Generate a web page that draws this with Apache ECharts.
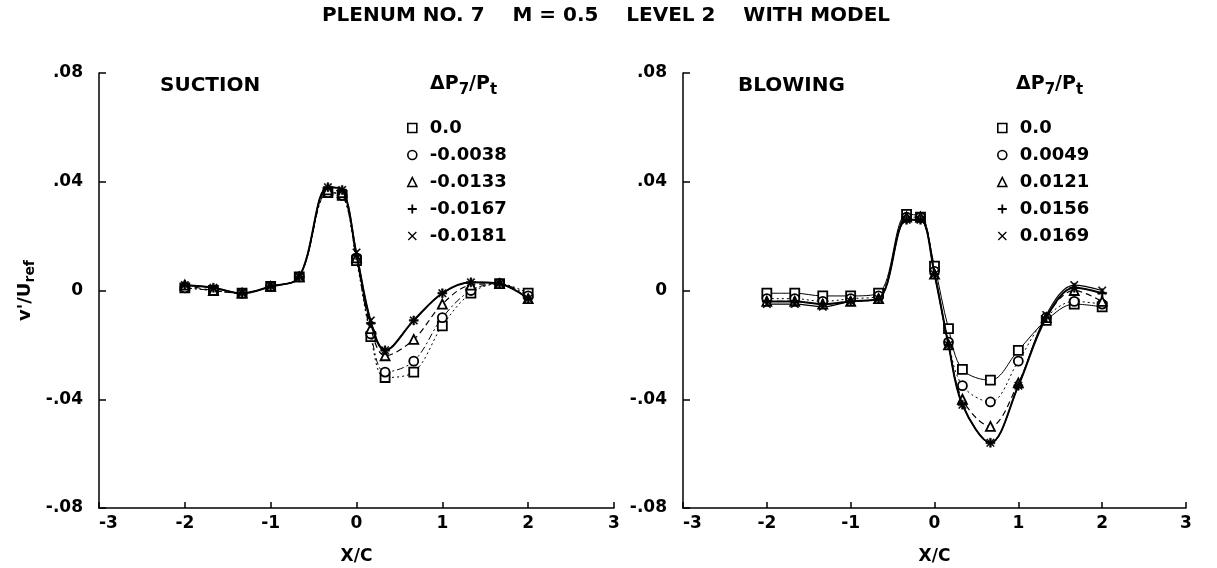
<!DOCTYPE html>
<html><head><meta charset="utf-8">
<script src="https://cdn.jsdelivr.net/npm/echarts@6/dist/echarts.min.js"></script>
<style>html,body{margin:0;padding:0;background:#fff}#c{width:1217px;height:568px}</style>
</head><body><div id="c"></div>
<script>
const xVals = [-2, -1.667, -1.333, -1, -0.667, -0.333, -0.167, 0, 0.167, 0.333, 0.667, 1, 1.333, 1.667, 2];

const suctionNames = ['0.0', '-0.0038', '-0.0133', '-0.0167', '-0.0181'];
const suctionSquare   = [0.001, 0.000, -0.001, 0.0015, 0.005, 0.036, 0.035, 0.011, -0.017, -0.032, -0.030, -0.013, -0.001, 0.0025, -0.001];
const suctionCircle   = [0.001, 0.000, -0.001, 0.0015, 0.005, 0.036, 0.035, 0.012, -0.016, -0.030, -0.026, -0.010, 0.000, 0.0025, -0.002];
const suctionTriangle = [0.002, 0.000, -0.001, 0.0015, 0.005, 0.037, 0.036, 0.012, -0.014, -0.024, -0.018, -0.005, 0.002, 0.0025, -0.003];
const suctionPlus     = [0.002, 0.001, -0.001, 0.0015, 0.005, 0.038, 0.037, 0.013, -0.012, -0.022, -0.011, -0.001, 0.003, 0.0025, -0.003];
const suctionCross    = [0.002, 0.001, -0.001, 0.0015, 0.005, 0.038, 0.037, 0.014, -0.011, -0.022, -0.011, -0.001, 0.003, 0.0025, -0.003];

const blowingNames = ['0.0', '0.0049', '0.0121', '0.0156', '0.0169'];
const blowingSquare   = [-0.001, -0.001, -0.002, -0.002, -0.001, 0.028, 0.027, 0.009, -0.014, -0.029, -0.033, -0.022, -0.011, -0.005, -0.006];
const blowingCircle   = [-0.003, -0.003, -0.004, -0.003, -0.002, 0.027, 0.027, 0.007, -0.019, -0.035, -0.041, -0.026, -0.010, -0.004, -0.005];
const blowingTriangle = [-0.004, -0.004, -0.005, -0.004, -0.003, 0.027, 0.027, 0.006, -0.020, -0.040, -0.050, -0.034, -0.010, 0.000, -0.004];
const blowingPlus     = [-0.004, -0.004, -0.005, -0.004, -0.003, 0.026, 0.026, 0.006, -0.020, -0.042, -0.056, -0.035, -0.010, 0.001, -0.001];
const blowingCross    = [-0.005, -0.005, -0.006, -0.004, -0.003, 0.026, 0.026, 0.006, -0.020, -0.042, -0.056, -0.035, -0.009, 0.002, 0.000];

const xTicks = [-3, -2, -1, 0, 1, 2, 3];
const yTicks = [-0.08, -0.04, 0, 0.04, 0.08];

const FONT = '"DejaVu Sans", "Liberation Sans", Arial, sans-serif';
const PLUS = 'path://M4,0H6V4H10V6H6V10H4V6H0V4H4Z';
const CROSS = 'path://M1,0L5,4L9,0L10,1L6,5L10,9L9,10L5,6L1,10L0,9L4,5L0,1Z';
const symbols = ['rect', 'circle', 'triangle', PLUS, CROSS];
const hollow = [true, true, true, false, false];
const sizes = [9, 9, 9, 9, 8];
const lineStylesLeft = [
  {type: [2, 3], width: 1},
  {type: [7, 3, 2, 3], width: 1},
  {type: [6, 4], width: 1.2},
  {type: 'solid', width: 2},
  {type: 'solid', width: 1.2}
];
const lineStylesRight = [
  {type: 'solid', width: 1},
  {type: [2, 3], width: 1},
  {type: [6, 4], width: 1.2},
  {type: 'solid', width: 2},
  {type: 'solid', width: 1.2}
];

function pair(arr) { return xVals.map((x, i) => [x, arr[i]]); }

function mkSeries(names, arrs, idx, styles) {
  return arrs.map((arr, k) => ({
    name: names[k],
    type: 'line',
    xAxisIndex: idx, yAxisIndex: idx,
    data: pair(arr),
    smooth: 0.35,
    symbol: symbols[k],
    symbolSize: sizes[k],
    showSymbol: true,
    lineStyle: Object.assign({color: '#000'}, styles[k]),
    itemStyle: hollow[k] ? {color: '#fff', borderColor: '#000', borderWidth: 1.8} : {color: '#000', borderColor: '#000', borderWidth: 0.5},
    emphasis: {disabled: true},
    z: 2 + k
  }));
}

const axisLabelStyle = {color: '#000', fontFamily: FONT, fontWeight: 'bold', fontSize: 17};

function xAxis(idx) {
  return {
    gridIndex: idx, type: 'value', min: xTicks[0], max: xTicks[xTicks.length - 1], interval: 1,
    name: 'X/C', nameLocation: 'middle', nameGap: 40,
    nameTextStyle: {color: '#000', fontFamily: FONT, fontWeight: 'bold', fontSize: 17},
    axisLine: {onZero: false, lineStyle: {color: '#000', width: 1.5}},
    axisTick: {inside: true, length: 6, lineStyle: {color: '#000', width: 1.5}},
    axisLabel: Object.assign({margin: 7, alignMinLabel: 'left', formatter: v => String(v)}, axisLabelStyle),
    splitLine: {show: false}
  };
}
function yAxis(idx) {
  return {
    gridIndex: idx, type: 'value', min: yTicks[0], max: yTicks[yTicks.length - 1], interval: 0.04,
    name: idx === 0 ? "v'/U{sub|ref}" : '', nameLocation: 'middle', nameGap: 62, nameRotate: 90,
    nameTextStyle: {color: '#000', fontFamily: FONT, fontWeight: 'bold', fontSize: 18,
      rich: {sub: {fontFamily: FONT, fontWeight: 'bold', fontSize: 14, verticalAlign: 'bottom', padding: [9, 0, 0, 0]}}},
    axisLine: {show: true, onZero: false, lineStyle: {color: '#000', width: 1.5}},
    axisTick: {inside: true, length: 7, lineStyle: {color: '#000', width: 1.5}},
    axisLabel: Object.assign({margin: 16, formatter: v => {
      const r = Math.round(v * 100) / 100;
      if (r === 0) return '0';
      return (r < 0 ? '-' : '') + Math.abs(r).toFixed(2).slice(1);
    }}, axisLabelStyle),
    splitLine: {show: false}
  };
}

function legend(names, left) {
  return {
    left: left, top: 114, orient: 'vertical', itemGap: 9, itemWidth: 9, itemHeight: 9,
    selectedMode: false,
    data: names.map((n, k) => ({name: n, icon: symbols[k],
      itemStyle: hollow[k] ? {color: '#fff', borderColor: '#000', borderWidth: 1.6} : {color: '#000', borderWidth: 0}})),
    textStyle: {color: '#000', fontFamily: FONT, fontWeight: 'bold', fontSize: 18, padding: [0, 0, 0, 8]}
  };
}

const chart = echarts.init(document.getElementById('c'), null, {renderer: 'canvas'});
const headRich = {
  b: {fontFamily: FONT, fontWeight: 'bold', fontSize: 19, fill: '#000'},
  s: {fontFamily: FONT, fontWeight: 'bold', fontSize: 15, fill: '#000', padding: [11, 0, 0, 0]}
};
chart.setOption({
  animation: false,
  backgroundColor: '#fff',
  title: {text: 'PLENUM NO. 7    M = 0.5    LEVEL 2    WITH MODEL', left: 601, textAlign: 'center', top: 1,
    textStyle: {color: '#000', fontFamily: FONT, fontWeight: 'bold', fontSize: 20}},
  grid: [
    {left: 99, top: 73, width: 515, height: 435, outerBoundsMode: 'none', containLabel: false},
    {left: 683, top: 73, width: 503, height: 435, outerBoundsMode: 'none', containLabel: false}
  ],
  xAxis: [xAxis(0), xAxis(1)],
  yAxis: [yAxis(0), yAxis(1)],
  legend: [legend(suctionNames, 402), legend(blowingNames, 992)],
  graphic: [
    {type: 'text', left: 160, top: 76, style: {text: 'SUCTION', font: 'bold 20px ' + FONT, fill: '#000'}},
    {type: 'text', left: 738, top: 76, style: {text: 'BLOWING', font: 'bold 20px ' + FONT, fill: '#000'}},
    {type: 'text', left: 430, top: 75, style: {text: '{b|ΔP}{s|7}{b|/P}{s|t}', rich: headRich}},
    {type: 'text', left: 1016, top: 75, style: {text: '{b|ΔP}{s|7}{b|/P}{s|t}', rich: headRich}}
  ],
  series: mkSeries(suctionNames, [suctionSquare, suctionCircle, suctionTriangle, suctionPlus, suctionCross], 0, lineStylesLeft)
    .concat(mkSeries(blowingNames, [blowingSquare, blowingCircle, blowingTriangle, blowingPlus, blowingCross], 1, lineStylesRight))
});
</script></body></html>
